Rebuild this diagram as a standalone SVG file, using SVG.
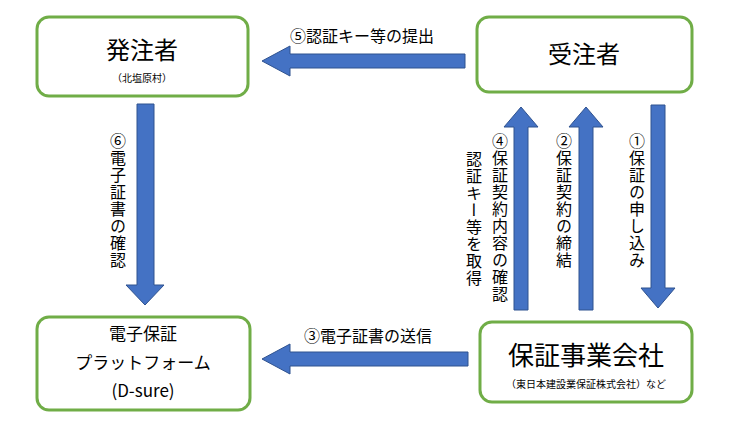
<svg xmlns="http://www.w3.org/2000/svg" width="731" height="438" viewBox="0 0 731 438">
<style>
.box{fill:#fff;stroke:#70ad47;stroke-width:3}
.arr{fill:#4472c4;stroke:#2f528f;stroke-width:1}
text{font-family:"Noto Sans CJK JP","Noto Sans",sans-serif;fill:#000}
.v{writing-mode:vertical-rl;font-size:16px;letter-spacing:1px}
</style>
<rect width="731" height="438" fill="#fff"/>
<g id="hacchusha"><rect class="box" x="37" y="17" width="211" height="79" rx="12"/>
<text x="142" y="59" font-size="24" text-anchor="middle">発注者</text>
<text x="142" y="82" font-size="10" text-anchor="middle">（北塩原村）</text></g>
<g id="juchusha"><rect class="box" x="477" y="17" width="215" height="75" rx="12"/>
<text x="584" y="63" font-size="24" text-anchor="middle">受注者</text></g>
<g id="platform"><rect class="box" x="37" y="317" width="213" height="93" rx="12"/>
<text x="143" y="340" font-size="17" text-anchor="middle">電子保証</text>
<text x="143" y="369" font-size="17" text-anchor="middle">プラットフォーム</text>
<text x="143" y="397" font-size="17" text-anchor="middle">(D-sure)</text></g>
<g id="hosho"><rect class="box" x="480" y="322" width="212" height="80" rx="12"/>
<text x="586" y="365" font-size="26" text-anchor="middle">保証事業会社</text>
<text x="586" y="388" font-size="10" text-anchor="middle">（東日本建設業保証株式会社）など</text></g>
<g id="connectors">
<path class="arr" d="M465,54 H290 V46 L262,61 L290,76 V68 H465 Z"/>
<text x="362" y="42" font-size="16" text-anchor="middle">⑤認証キー等の提出</text>
<path class="arr" d="M468,352 H290 V344 L262,359 L290,374 V366 H468 Z"/>
<text x="368" y="342" font-size="16" text-anchor="middle">③電子証書の送信</text>
<path class="arr" d="M137,104 H154 V285 H164 L145,305 L126,285 H137 Z"/>
<text class="v" x="118" y="133">⑥電子証書の確認</text>
<path class="arr" d="M651,105 H665 V288 H675 L658,308 L641,288 H651 Z"/>
<text class="v" x="637" y="133">①保証の申し込み</text>
<path class="arr" d="M579,310 H593 V127 H603 L586,107 L569,127 H579 Z"/>
<text class="v" x="564" y="133">②保証契約の締結</text>
<path class="arr" d="M514,310 H528 V127 H538 L521,107 L504,127 H514 Z"/>
<text class="v" x="500" y="133">④保証契約内容の確認</text>
<text class="v" x="474" y="151">認証キー等を取得</text>
</g>
</svg>
